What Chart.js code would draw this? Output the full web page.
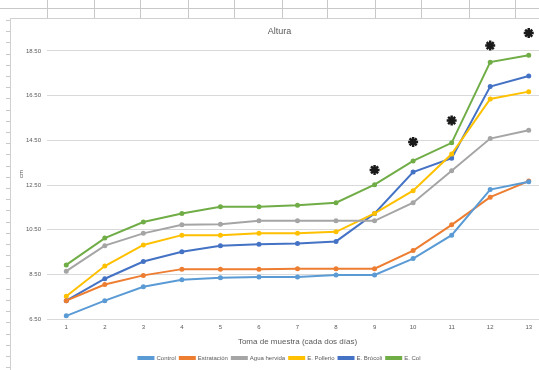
<!DOCTYPE html>
<html>
<head>
<meta charset="utf-8">
<script src="https://cdn.jsdelivr.net/npm/chart.js@4.4.0/dist/chart.umd.min.js"></script>
<style>
  html, body { margin: 0; padding: 0; background: #fff; overflow: hidden; }
  #wrap { position: relative; width: 539px; height: 370px; overflow: hidden; }
  #frame { position: absolute; left: 10px; top: 18px; width: 550px; height: 352px;
           border-left: 1px solid #d0d0d0; border-top: 1px solid #d0d0d0; }
  .deco { position: absolute; background: #c8c8c8; }
</style>
</head>
<body>
<div id="wrap">
  <div id="frame"><canvas id="alturaChart" width="550" height="352"></canvas></div>
</div>
<script>
// Datos: altura (cm) por toma de muestra
var muestras = ['1','2','3','4','5','6','7','8','9','10','11','12','13'];
var yTicks = [6.5, 8.5, 10.5, 12.5, 14.5, 16.5, 18.5];

var control      = [6.65, 7.33, 7.95, 8.26, 8.35, 8.39, 8.39, 8.48, 8.48, 9.21, 10.26, 12.30, 12.65];
var estratacion  = [7.33, 8.05, 8.46, 8.74, 8.74, 8.74, 8.76, 8.76, 8.76, 9.57, 10.72, 11.96, 12.68];
var aguaHervida  = [8.65, 9.79, 10.34, 10.72, 10.75, 10.90, 10.90, 10.90, 10.90, 11.71, 13.14, 14.58, 14.95];
var ePollerio    = [7.53, 8.88, 9.82, 10.26, 10.26, 10.34, 10.34, 10.41, 11.23, 12.25, 13.89, 16.35, 16.68];
var eBrocoli     = [7.33, 8.31, 9.08, 9.52, 9.79, 9.85, 9.89, 9.98, 11.23, 13.08, 13.70, 16.91, 17.38];
var eCol         = [8.93, 10.13, 10.85, 11.23, 11.53, 11.53, 11.60, 11.71, 12.52, 13.58, 14.39, 18.00, 18.31];
// asteriscos de significancia
var significancia = [null, null, null, null, null, null, null, null, 13.18, 14.43, 15.39, 18.74, 19.30];

// decoracion de la hoja de calculo (fila superior y regla izquierda)
var wrap = document.getElementById('wrap');
function deco(l, t, w, h) {
    var d = document.createElement('div');
    d.className = 'deco';
    d.style.left = l + 'px'; d.style.top = t + 'px';
    d.style.width = w + 'px'; d.style.height = h + 'px';
    wrap.appendChild(d);
}
deco(0, 8, 539, 1);
[47, 94, 140, 188, 234, 282, 327, 375, 421, 469, 515].forEach(function (x) { deco(x, 0, 1, 18); });
for (var ry = 20; ry < 370; ry += 11.2) { deco(6, Math.round(ry), 4, 1); }

function serie(label, data, color) {
    return {
        label: label,
        data: data,
        borderColor: color,
        backgroundColor: color,
        borderWidth: 2,
        pointRadius: 1.5,
        pointHoverRadius: 1.5,
        tension: 0
    };
}

var ctx = document.getElementById('alturaChart').getContext('2d');
new Chart(ctx, {
    type: 'line',
    data: {
        labels: muestras,
        datasets: [
            serie('Control', control, '#5B9BD5'),
            serie('Estratación', estratacion, '#ED7D31'),
            serie('Agua hervida', aguaHervida, '#A5A5A5'),
            serie('E. Pollerio', ePollerio, '#FFC000'),
            serie('E. Brócoli', eBrocoli, '#4472C4'),
            serie('E. Col', eCol, '#70AD47'),
            {
                label: 'sig',
                data: significancia,
                showLine: false,
                pointStyle: 'star',
                pointRadius: 5,
                borderColor: '#1a1a1a',
                backgroundColor: '#1a1a1a',
                borderWidth: 2.5,
                clip: false
            }
        ]
    },
    options: {
        responsive: false,
        animation: false,
        layout: { padding: { left: 0, right: 13, top: 0, bottom: 0 } },
        plugins: {
            title: {
                display: true,
                text: 'Altura',
                color: '#595959',
                font: { family: 'Liberation Sans', size: 9, weight: 'normal' },
                padding: { top: 6, bottom: -8 }
            },
            legend: {
                position: 'bottom',
                labels: {
                    boxWidth: 15,
                    boxHeight: 2,
                    padding: 4,
                    color: '#595959',
                    font: { family: 'Liberation Sans', size: 6 },
                    filter: function (item) { return item.text !== 'sig'; }
                }
            },
            tooltip: { enabled: false }
        },
        scales: {
            x: {
                offset: true,
                grid: { display: false, drawTicks: false },
                border: { display: false },
                ticks: { color: '#595959', font: { family: 'Liberation Sans', size: 6 }, padding: 5 },
                title: {
                    display: true,
                    text: 'Toma de muestra (cada dos días)',
                    color: '#595959',
                    font: { family: 'Liberation Sans', size: 8 },
                    padding: { top: 1, bottom: 4 }
                }
            },
            y: {
                min: 6.5,
                max: 19.5,
                afterBuildTicks: function (scale) {
                    scale.ticks = yTicks.map(function (v) { return { value: v }; });
                },
                afterFit: function (scale) { scale.width = 36; },
                grid: { color: '#D9D9D9', drawTicks: false },
                border: { display: false },
                ticks: {
                    color: '#595959',
                    font: { family: 'Liberation Sans', size: 6 },
                    padding: 6,
                    callback: function (v) { return Number(v).toFixed(2); }
                },
                title: {
                    display: true,
                    text: 'cm',
                    color: '#595959',
                    font: { family: 'Liberation Sans', size: 6 },
                    padding: { top: 7, bottom: 0 }
                }
            }
        }
    }
});
</script>
</body>
</html>
